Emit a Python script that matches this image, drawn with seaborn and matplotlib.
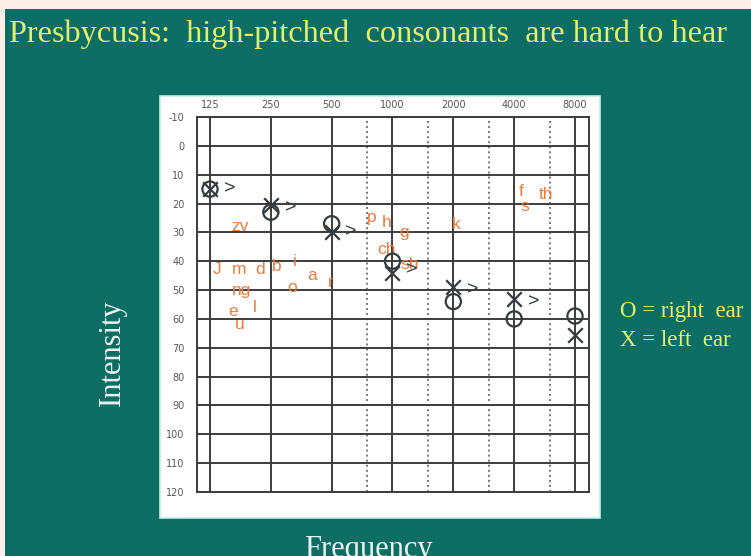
import matplotlib
matplotlib.use("Agg")
import matplotlib.pyplot as plt
import seaborn as sns
from matplotlib.patches import Rectangle
from matplotlib.ticker import FixedLocator, NullFormatter

plt.rcParams["axes.unicode_minus"] = False

# audiogram data
freqs = [125, 250, 500, 1000, 2000, 4000, 8000]
freq_labels = ["125", "250", "500", "1000", "2000", "4000", "8000"]
half_octaves = [750, 1500, 3000, 6000]
db_ticks = list(range(-10, 130, 10))

right_ear = [15, 23, 27, 40, 54, 60, 59]
left_ear = [15, 20.5, 30, 44, 49, 53, 65.5]
bone_freqs = [125, 250, 500, 1000, 2000, 4000]
bone_db = [15, 21.5, 30, 43, 50, 54]

# speech sounds ("speech banana")
sounds = ["J", "m", "d", "b", "i", "a", "r", "o", "ng", "e", "l", "u", "zv",
          "p", "h", "g", "ch", "sh", "k", "f", "s", "th"]
sound_freqs = [136, 174, 221, 267, 328, 399, 495, 320, 178, 163, 208, 176, 176,
               790, 936, 1146, 936, 1213, 2066, 4350, 4520, 5770]
sound_db = [43, 43, 43, 42, 40, 45, 47.5, 49, 50, 57.5, 56, 62, 28,
            25, 26.7, 30, 36, 41.3, 27.4, 16, 21, 17]

BG = "#0e6e64"
YELLOW = "#e2ee6c"
INK = "#353b40"
ORANGE = "#f07a3c"

fig = plt.figure(figsize=(7.51, 5.56), dpi=100)
fig.patch.set_facecolor("#fbefe8")
fig.patches.append(Rectangle((5 / 751, 0), 1, 1 - 9 / 556, transform=fig.transFigure,
                             facecolor=BG, edgecolor="none", zorder=-3))
fig.patches.append(Rectangle((160 / 751, 1 - 518 / 556), 440 / 751, 422 / 556,
                             transform=fig.transFigure, facecolor="white",
                             edgecolor="#bfeee8", linewidth=1.2, zorder=-2))

ax = fig.add_axes([197 / 751, 1 - 492 / 556, 392 / 751, 375 / 556])
ax.set_facecolor("white")
ax.set_xscale("log", base=2)
ax.set_xlim(107.8, 9384)
ax.set_ylim(120, -10)

ax.xaxis.set_major_locator(FixedLocator(freqs))
ax.set_xticklabels(freq_labels)
ax.xaxis.set_minor_locator(FixedLocator(half_octaves))
ax.xaxis.set_minor_formatter(NullFormatter())
ax.set_yticks(db_ticks)
ax.xaxis.tick_top()
ax.tick_params(axis="both", which="both", length=0, labelsize=7, labelcolor="#555555")
ax.tick_params(axis="x", pad=5)
ax.tick_params(axis="y", pad=9)

ax.grid(which="major", color="#3c3c3c", linewidth=1.4)
ax.grid(which="minor", axis="x", color="#777777", linewidth=1.4, linestyle=(0, (1, 1.6)))
ax.set_axisbelow(True)
for sp in ax.spines.values():
    sp.set_color("#3c3c3c")
    sp.set_linewidth(1.4)

for s, f, d in zip(sounds, sound_freqs, sound_db):
    ax.text(f, d, s, color=ORANGE, fontsize=12.5, ha="center", va="center",
            family="Liberation Sans", zorder=2)

sns.scatterplot(x=freqs, y=right_ear, ax=ax, marker="o", s=120, facecolors="none",
                edgecolor=INK, linewidth=1.6, zorder=3)
sns.scatterplot(x=freqs, y=left_ear, ax=ax, marker="x", s=110, color=INK,
                linewidth=1.6, zorder=3)
for f, d in zip(bone_freqs, bone_db):
    ax.annotate(">", (f, d), xytext=(14, 0), textcoords="offset points",
                ha="center", va="center", fontsize=14, color=INK,
                family="Liberation Sans", zorder=3)

serif = ["Liberation Serif", "DejaVu Serif"]
fig.text(9 / 751, 1 - 34 / 556, "Presbycusis:  high-pitched  consonants  are hard to hear",
         color=YELLOW, fontsize=23.2, family=serif, ha="left", va="center")
fig.text(620 / 751, 1 - 311 / 556, "O = right  ear", color=YELLOW, fontsize=16.5,
         family=serif, ha="left", va="center")
fig.text(620 / 751, 1 - 340 / 556, "X = left  ear", color=YELLOW, fontsize=16.5,
         family=serif, ha="left", va="center")
fig.text(112 / 751, 1 - 353 / 556, "Intensity", color="#e8f4ee", fontsize=22,
         family=serif, rotation=90, ha="center", va="center")
fig.text(368 / 751, 1 - 549 / 556, "Frequency", color="#e8f4ee", fontsize=22,
         family=serif, ha="center", va="center")

fig.savefig("out.png", dpi=100, facecolor=fig.get_facecolor())
